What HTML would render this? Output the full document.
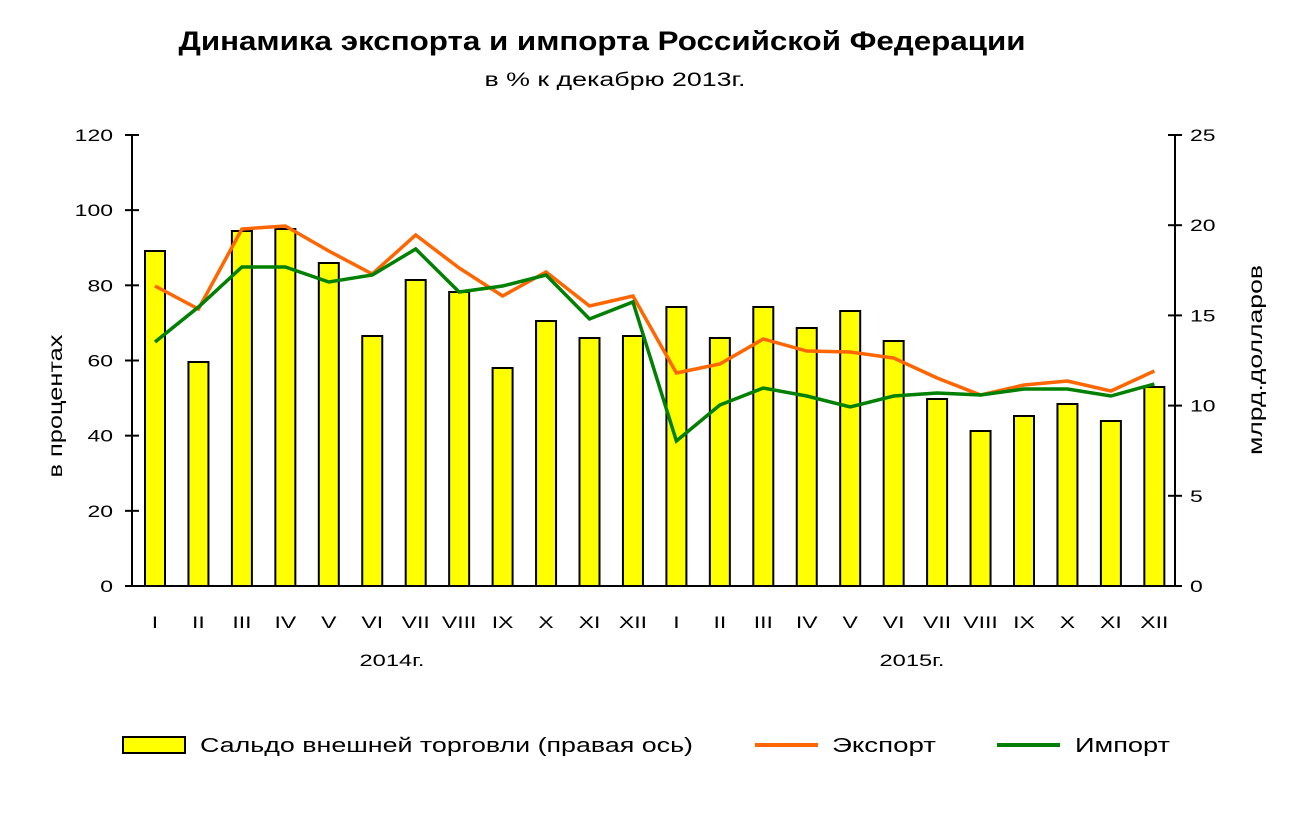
<!DOCTYPE html>
<html><head><meta charset="utf-8"><style>
body{margin:0;background:#fff;}
svg text{font-family:"Liberation Sans",sans-serif;fill:#000;}
</style></head><body>
<svg id="s" width="1300" height="833" xmlns="http://www.w3.org/2000/svg">
<text x="602" y="50" text-anchor="middle" font-size="27" font-weight="bold" class="st" data-w="847">Динамика экспорта и импорта Российской Федерации</text>
<text x="615" y="86" text-anchor="middle" font-size="19" class="st" data-w="261">в % к декабрю 2013г.</text>
<g id="bars" fill="#ffff00" stroke="#000" stroke-width="2"></g>
<g stroke="#000" stroke-width="2">
<line x1="132" y1="135" x2="132" y2="586"/>
<line x1="1175" y1="135" x2="1175" y2="586"/>
<line x1="132" y1="586" x2="1175" y2="586"/>
</g>
<g id="ticks" stroke="#000" stroke-width="2"></g>
<g id="labels" font-size="17"></g>
<polyline id="exp" fill="none" stroke="#ff6600" stroke-width="3.5"/>
<polyline id="imp" fill="none" stroke="#008000" stroke-width="3.5"/>
<text x="392" y="666" text-anchor="middle" font-size="17" class="st" data-w="65">2014г.</text>
<text x="912" y="666" text-anchor="middle" font-size="17" class="st" data-w="65">2015г.</text>
<text transform="translate(62,406) rotate(-90)" text-anchor="middle" font-size="19" class="st" data-w="143">в процентах</text>
<text transform="translate(1262,360) rotate(-90)" text-anchor="middle" font-size="19" class="st" data-w="190">млрд.долларов</text>
<rect x="123" y="737" width="62" height="16" fill="#ffff00" stroke="#000" stroke-width="2"/>
<text x="200" y="752" font-size="20" class="st" data-w="493">Сальдо внешней торговли (правая ось)</text>
<line x1="755" y1="745" x2="818" y2="745" stroke="#ff6600" stroke-width="4"/>
<text x="832" y="752" font-size="20" class="st" data-w="104">Экспорт</text>
<line x1="997" y1="745" x2="1060" y2="745" stroke="#008000" stroke-width="4"/>
<text x="1075" y="752" font-size="20" class="st" data-w="95">Импорт</text>
</svg>
<script>
var ns="http://www.w3.org/2000/svg";
function el(p,t,a,txt){var e=document.createElementNS(ns,t);for(var k in a)e.setAttribute(k,a[k]);if(txt!==undefined)e.textContent=txt;document.getElementById(p).appendChild(e);return e;}
var bars=[251,362,231,229,263,336,280,292,368,321,338,336,307,338,307,328,311,341,399,431,416,404,421,387];
var ex=[286,309,229,226,251,274,235,268,296,272,306,296,373,364,339,351,352,358,378,395,385,381,391,371];
var im=[342,307,267,267,282,275,249,292,286,275,319,302,441,405,388,396,407,396,393,395,389,389,396,384];
var r=["I","II","III","IV","V","VI","VII","VIII","IX","X","XI","XII"];
var pe=[],pi=[];
for(var i=0;i<24;i++){var cx=155+43.45*i;
el("bars","rect",{x:cx-10,y:bars[i],width:20,height:586-bars[i]});
pe.push(cx+","+ex[i]);pi.push(cx+","+im[i]);
el("labels","text",{x:cx,y:628,"text-anchor":"middle","class":"sc"},r[i%12]);}
document.getElementById("exp").setAttribute("points",pe.join(" "));
document.getElementById("imp").setAttribute("points",pi.join(" "));
for(var j=0;j<=6;j++){var y=586-j*75.17;
el("ticks","line",{x1:125,y1:y,x2:139,y2:y});
el("labels","text",{x:113,y:y+6,"text-anchor":"end","class":"sc"},String(j*20));}
for(var j=0;j<=5;j++){var y=586-j*90.2;
el("ticks","line",{x1:1168,y1:y,x2:1182,y2:y});
el("labels","text",{x:1190,y:y+6,"class":"sc"},String(j*5));}
document.querySelectorAll("text.sc").forEach(function(t){t.setAttribute("textLength",t.getComputedTextLength()*1.35);t.setAttribute("lengthAdjust","spacingAndGlyphs");});
document.querySelectorAll("text.st").forEach(function(t){t.setAttribute("textLength",t.getAttribute("data-w"));t.setAttribute("lengthAdjust","spacingAndGlyphs");});
</script>
</body></html>
